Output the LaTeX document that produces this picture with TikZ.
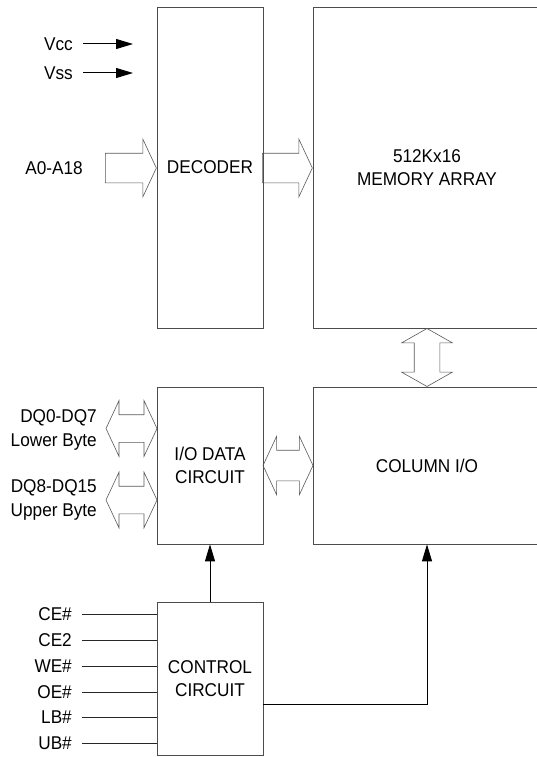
\documentclass[tikz,border=0pt]{standalone}
\usepackage{fontspec}
\setmainfont{Liberation Sans}[FakeStretch=0.93]
\usetikzlibrary{shapes.arrows,arrows.meta,calc}
\tikzset{block/.style={draw=black!70, line width=0.7pt, rectangle, inner sep=0pt, align=center, font=\fontsize{18.5}{23}\selectfont}}
\tikzset{pin/.style={anchor=east, inner xsep=10pt, inner ysep=0pt, align=right, font=\fontsize{18.5}{23}\selectfont}}
\tikzset{sig/.style={draw=black!85, line width=0.9pt}}
\tikzset{sigarrow/.style={draw=black, line width=1pt, -{Triangle[length=17pt,width=10pt]}}}
\tikzset{bus/.style={single arrow, draw=black!65, line width=0.6pt, inner sep=14.5pt, single arrow head extend=14pt, single arrow tip angle=130}}
\tikzset{dbus/.style={double arrow, draw=black!65, line width=0.6pt, inner sep=13.5pt, double arrow head extend=14pt, double arrow tip angle=130}}

\begin{document}
\begin{tikzpicture}[x=1pt, y=-1pt]
	\useasboundingbox (0,0) rectangle (537,757);
	% blocks
	\node [block, minimum width=106pt, minimum height=321pt] (dec) at (210,167.5) {DECODER};
	\node [block, minimum width=228pt, minimum height=321pt] (mem) at (427,167.5) {512Kx16\\MEMORY ARRAY};
	\node [block, minimum width=106pt, minimum height=157pt] (io) at (210,465.5) {I/O DATA\\CIRCUIT};
	\node [block, minimum width=228pt, minimum height=157pt] (col) at (427,465.5) {COLUMN I/O};
	\node [block, minimum width=106pt, minimum height=153pt] (ctl) at (210,678.5) {CONTROL\\CIRCUIT};
	% power
	\node [pin] (vcc) at (83,44) {Vcc};
	\node [pin] (vss) at (83,73) {Vss};
	\coordinate (vccend) at (133,44);
	\coordinate (vssend) at (133,73);
	\draw [sigarrow] (vcc) -- (vccend);
	\draw [sigarrow] (vss) -- (vssend);
	% buses
	\node [bus, minimum height=51pt, anchor=tip] (addr) at (dec.west |- 0,168) {};
	\node [anchor=east, inner sep=0pt, font=\fontsize{18.5}{23}\selectfont] (addrlbl) at (83,168) {A0-A18};
	\node [bus, minimum height=50pt, anchor=tip] (decbus) at (mem.west |- 0,168) {};
	\node [dbus, minimum height=58pt, inner sep=12.5pt, double arrow head extend=12.5pt, double arrow tip angle=121, shape border rotate=90] (membus) at ($(mem.south)!0.5!(col.north)$) {};
	\node [dbus, minimum height=50pt, inner sep=15pt] (iobus) at ($(io.east)!0.5!(col.west)$) {};
	\node [dbus, minimum height=51pt] (dqlo) at (131.5,428.5) {};
	\node [dbus, minimum height=51pt] (dqhi) at (131.5,500) {};
	\node [anchor=east, inner sep=0pt, align=right, font=\fontsize{18.5}{24}\selectfont] (dqlolbl) at (97,430) {DQ0-DQ7\\Lower Byte};
	\node [anchor=east, inner sep=0pt, align=right, font=\fontsize{18.5}{24}\selectfont] (dqhilbl) at (97,500) {DQ8-DQ15\\Upper Byte};
	% control inputs
	\node [pin] (ce) at (82,614) {CE\#};
	\node [pin] (cetwo) at (82,640) {CE2};
	\node [pin] (we) at (82,666) {WE\#};
	\node [pin] (oe) at (82,692) {OE\#};
	\node [pin] (lb) at (82,717) {LB\#};
	\node [pin] (ub) at (82,743) {UB\#};
	\foreach \n in {ce,cetwo,we,oe,lb,ub}
		\draw [sig] (\n) -- (\n -| ctl.west);
	% control outputs
	\draw [sigarrow] (ctl.north) -- (io.south);
	\draw [sigarrow] (ctl.east |- 0,704) -| (col.south);
\end{tikzpicture}
\end{document}
